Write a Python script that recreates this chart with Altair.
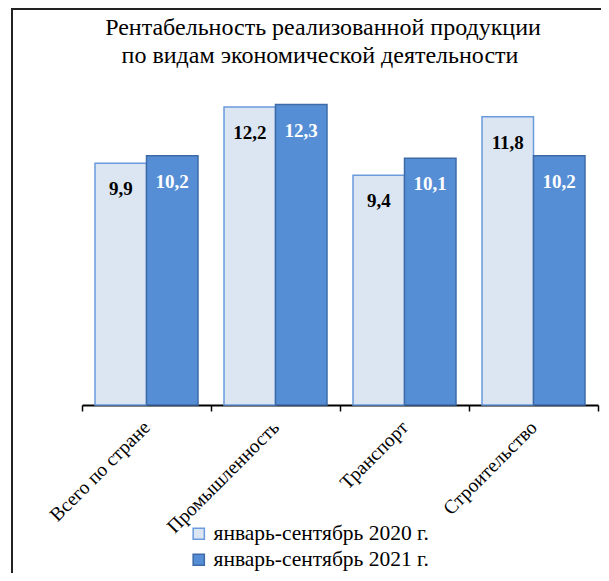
import altair as alt
import pandas as pd

categories = ["Всего по стране", "Промышленность", "Транспорт", "Строительство"]
series = ["январь-сентябрь 2020 г.", "январь-сентябрь 2021 г."]
values_2020 = [9.9, 12.2, 9.4, 11.8]
values_2021 = [10.2, 12.3, 10.1, 10.2]
title_lines = ["Рентабельность реализованной продукции", "по видам экономической деятельности"]

fill_colors = ["#DCE6F2", "#558ED5"]
stroke_colors = ["#6A9BDD", "#3E6BA8"]
label_colors = ["black", "white"]

rows = []
for c, a, b in zip(categories, values_2020, values_2021):
    for s, v in zip(series, (a, b)):
        rows.append({"cat": c, "period": s, "value": v,
                     "label": f"{v:.1f}".replace(".", ",")})
df = pd.DataFrame(rows)

W, H = 516, 342
FONT = "'Liberation Serif', 'Times New Roman', serif"

leg = alt.Legend(title=None, orient="none", legendX=106, legendY=460,
                 labelFont=FONT, labelFontSize=21.5, labelColor="black",
                 labelLimit=400,
                 symbolType="square", symbolSize=125, symbolStrokeWidth=1.5,
                 rowPadding=3, labelOffset=4)

base = alt.Chart(df).encode(
    x=alt.X("cat:N", sort=categories,
            scale=alt.Scale(paddingInner=0, paddingOuter=0),
            axis=alt.Axis(title=None, labelAngle=-45, labelAlign="right",
                          labelBaseline="middle", labelFont=FONT,
                          labelFontSize=19.5, labelColor="black",
                          labelPadding=13, labelLimit=300, tickBand="extent",
                          tickColor="black", tickWidth=1.5, tickSize=6,
                          domainColor="black", domainWidth=2)),
    xOffset=alt.XOffset("period:N", sort=series,
                        scale=alt.Scale(paddingOuter=0.2525, paddingInner=0)),
    y=alt.Y("value:Q", scale=alt.Scale(domain=[0, 14]), axis=None),
)

bars = base.mark_bar(strokeWidth=1.5).encode(
    fill=alt.Fill("period:N", sort=series,
                  scale=alt.Scale(domain=series, range=fill_colors), legend=leg),
    stroke=alt.Stroke("period:N", sort=series,
                      scale=alt.Scale(domain=series, range=stroke_colors), legend=leg),
)

labels = base.mark_text(dy=26, font=FONT, fontSize=19, fontWeight="bold").encode(
    text="label:N",
    color=alt.Color("period:N", scale=alt.Scale(domain=series, range=label_colors),
                    legend=None),
)

frame = pd.DataFrame({"k": [0]})
border_left = alt.Chart(frame).mark_rule(color="#222222", strokeWidth=2).encode(
    x=alt.value(-70), y=alt.value(-54), y2=alt.value(H + 200))
border_top = alt.Chart(frame).mark_rule(color="#222222", strokeWidth=2).encode(
    x=alt.value(-71), x2=alt.value(W + 40), y=alt.value(-54))

title1 = alt.Chart(frame).mark_text(font=FONT, fontSize=24, color="black",
                                    align="center", baseline="alphabetic").encode(
    x=alt.value(241), y=alt.value(-28), text=alt.value(title_lines[0]))
title2 = alt.Chart(frame).mark_text(font=FONT, fontSize=24, color="black",
                                    align="center", baseline="alphabetic").encode(
    x=alt.value(238), y=alt.value(0), text=alt.value(title_lines[1]))

chart = alt.layer(bars, labels, border_left, border_top, title1, title2).properties(
    width=W, height=H,
    autosize=alt.AutoSizeParams(type="none"),
    padding={"left": 74, "top": 55, "right": 3, "bottom": 168},
).configure_view(stroke=None).resolve_scale(color="independent")

chart.save("out.html", embed_options={"renderer": "svg", "actions": False})
